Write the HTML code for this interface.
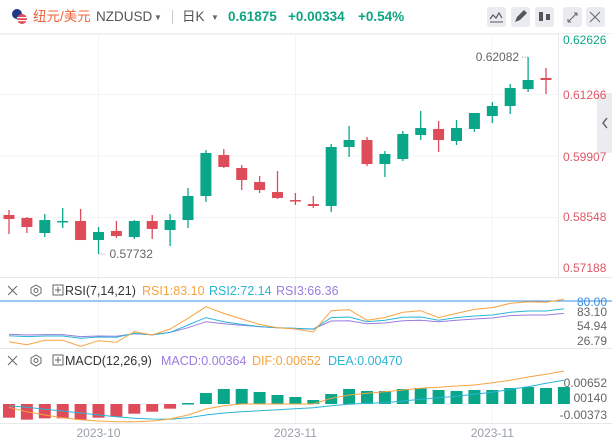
<!DOCTYPE html>
<html><head><meta charset="utf-8"><style>
body{margin:0;width:612px;height:444px;overflow:hidden;background:#fff;font-family:"Liberation Sans","Noto Sans CJK SC",sans-serif;}
svg{display:block}
</style></head><body>
<svg id="c" width="612" height="444" viewBox="0 0 612 444">
<g id="hdr">
 <rect x="0" y="0" width="612" height="33" fill="#fff"/>
 <line x1="0" y1="33.5" x2="612" y2="33.5" stroke="#eceef2"/>
 <g><circle cx="17" cy="14" r="5" fill="#1f3a8a"/><circle cx="22" cy="19" r="5" fill="#e04b5a"/><rect x="17" y="17" width="10" height="1.2" fill="#fff"/><rect x="17" y="20" width="10" height="1.2" fill="#fff"/></g>
 <text x="33" y="21" font-size="13.5" fill="#f0643c">纽元/美元</text>
 <text x="96" y="21" font-size="13.5" fill="#555">NZDUSD</text>
 <text x="154" y="20" font-size="8" fill="#666">▼</text>
 <line x1="172.5" y1="10" x2="172.5" y2="24" stroke="#ccc"/>
 <text x="182" y="21" font-size="13.5" fill="#555">日K</text>
 <text x="211" y="20" font-size="8" fill="#666">▼</text>
 <text x="228" y="21" font-size="13.5" font-weight="bold" fill="#0ea583">0.61875</text>
 <text x="288" y="21" font-size="13.5" font-weight="bold" fill="#0ea583">+0.00334</text>
 <text x="358" y="21" font-size="13.5" font-weight="bold" fill="#0ea583">+0.54%</text>
 <g><rect x="487" y="7" width="19" height="20" rx="3" fill="#e9ebf0"/><path d="M490 19l3-4 3 3 3-5 3 5" stroke="#555" fill="none" stroke-width="1.2"/><line x1="490" y1="22" x2="503" y2="22" stroke="#555"/></g>
 <g><rect x="511" y="7" width="19" height="20" rx="3" fill="#e9ebf0"/><path d="M515 22l2-5 7-7 3 3-7 7z" fill="#555"/></g>
 <g><rect x="535" y="7" width="19" height="20" rx="3" fill="#e9ebf0"/><rect x="539" y="12" width="4" height="9" fill="#555"/><rect x="546" y="14" width="4" height="6" fill="#555"/></g>
 <g><rect x="563" y="7" width="19" height="20" rx="3" fill="#e9ebf0"/><path d="M568 22l9-9M568 22v-3M568 22h3M577 13h-3M577 13v3" stroke="#666" fill="none"/></g>
 <g><rect x="586" y="7" width="19" height="20" rx="3" fill="#e9ebf0"/><path d="M590 12l10 10M600 12l-10 10" stroke="#666"/></g>
</g>
<g id="grid"></g>
<g id="main"></g>
<g id="rsi"></g>
<g id="macd"></g>
<g><rect x="597" y="93" width="15" height="60" fill="#ebecf0"/><path d="M607 118l-4 5 4 5" stroke="#666" fill="none" stroke-width="1.5"/></g>
<g id="axes"></g>
</svg>
<script>
const opens=[.58592,.58526,.58194,.58459,.58459,.58039,.58239,.58106,.58459,.58261,.58481,.59012,.59918,.59631,.59321,.59100,.58923,.58835,.58791,.60095,.60249,.59719,.59830,.60360,.60493,.60227,.60493,.60780,.61001,.61376,.61620];
const highs=[.58702,.58548,.58614,.58747,.58725,.58327,.58459,.58481,.58592,.58614,.59189,.60028,.60051,.59697,.59454,.59564,.59078,.59012,.60161,.60559,.60316,.60006,.60448,.60890,.60669,.60691,.60846,.61089,.61487,.62082,.61841];
const lows=[.58172,.58194,.58106,.58305,.58039,.57732,.58084,.58062,.58062,.57907,.58305,.58879,.59631,.59144,.59078,.58946,.58813,.58747,.58658,.59874,.59675,.59432,.59785,.60249,.59984,.60139,.60426,.60625,.60824,.61310,.61266];
const closes=[.58503,.58327,.58481,.58460,.58039,.58216,.58128,.58459,.58283,.58481,.59012,.59962,.59653,.59365,.59144,.58968,.58913,.58791,.60095,.60249,.59719,.59940,.60382,.60515,.60249,.60515,.60846,.61001,.61399,.61575,.61575];
const rsi1=[37.2,34.0,38.6,38.6,32.3,38.2,36.5,47.7,44.2,50.5,61.8,74.0,67.0,61.1,55.4,51.9,50.5,47.4,69.8,70.9,59.7,62.5,68.1,69.8,62.5,67.0,71.2,73.0,77.5,79.3,78.6,81.8];
const rsi2=[43.5,42.5,43.2,43.2,40.7,42.1,41.8,46.0,44.2,47.0,54.7,62.5,58.2,55.4,53.0,51.9,51.2,50.2,62.5,63.2,58.2,59.7,62.8,63.2,59.7,62.5,64.2,65.3,68.1,69.5,69.5,71.9];
const rsi3=[44.9,44.2,44.6,44.6,42.5,43.2,42.8,45.6,44.6,47.0,51.9,58.2,56.1,54.4,53.0,51.9,51.2,50.5,58.9,59.3,56.1,56.8,59.3,59.7,58.2,59.7,61.1,62.1,64.6,65.3,65.3,67.0];
const hist=[-.00415,-.00475,-.00435,-.00435,-.00475,-.00415,-.00385,-.00294,-.00233,-.00142,.0003,.00333,.00455,.00455,.00364,.00273,.00212,.00121,.00303,.00455,.00394,.00394,.00455,.00485,.00424,.00394,.00424,.00424,.00485,.00515,.00485,.00515];
const dif=[-.00101,-.00232,-.00333,-.00414,-.00475,-.00515,-.00535,-.00535,-.00515,-.00455,-.00333,-.00152,-.00051,0,0,0,0,0,.00172,.00273,.00323,.00374,.00424,.00475,.00505,.00545,.00576,.00646,.00717,.00818,.00899,.01];
const dea=[-.00051,-.00101,-.00162,-.00212,-.00273,-.00333,-.00384,-.00434,-.00455,-.00465,-.00414,-.00333,-.00273,-.00232,-.00202,-.00172,-.00141,-.00111,-.00051,-.0001,.0002,.0004,.00091,.00141,.00192,.00232,.00293,.00354,.00444,.00525,.00626,.00717];
const priceTicks=["0.62626","0.61266","0.59907","0.58548","0.57188"];
const rsiTicks=["80.00","83.10","54.94","26.79"];
const macdTicks=["0.00652","00140","-0.00373"];
const dateLabels=["2023-10","2023-11","2023-11"];
const dateIdx=[5,16,27];

const NS="http://www.w3.org/2000/svg";
function mk(p,t,a){const e=document.createElementNS(NS,t);for(const k in a)e.setAttribute(k,a[k]);p.appendChild(e);return e;}
const X=i=>9+i*17.9;
const Y=p=>94+(0.61266-p)*4525;
const RY=v=>301+(80-v)*0.95;
const MY=v=>404-v*3300;
const RED="#de4c5a",GREEN="#0aa68a";
const grid=document.getElementById('grid');
[34,94,155.5,217].forEach(y=>{const l=mk(grid,'line',{x1:0,x2:558,y1:y+.5,y2:y+.5,stroke:"#f2f3f6"});

});
dateIdx.forEach(i=>{const l=mk(grid,'line',{x1:X(i),x2:X(i),y1:34,y2:424,stroke:"#f2f3f6"});

});
const main=document.getElementById('main');
opens.forEach((o,i)=>{const c=closes[i];const col=c>=o?GREEN:RED;const g=mk(main,'g',{});


mk(g,'line',{x1:X(i),x2:X(i),y1:Y(highs[i]),y2:Y(lows[i]),stroke:col,'stroke-width':1.3});
const t=Math.min(Y(o),Y(c)),h=Math.max(1.5,Math.abs(Y(o)-Y(c)));
mk(g,'rect',{x:X(i)-5.5,y:t,width:11,height:h,fill:col});});
function lab(p,x,y,txt,col,anchor,size,name){const t=mk(p,'text',{x:x,y:y,'font-size':size||12,fill:col,'text-anchor':anchor||'start'});t.textContent=txt;

return t;}
let hi=highs.indexOf(Math.max(...highs)),lo=lows.indexOf(Math.min(...lows));
mk(main,'path',{d:`M${X(hi)} ${Y(highs[hi])}h-6`,stroke:"#999",'stroke-dasharray':"1 1.5"});
lab(main,X(hi)-9,Y(highs[hi])+4,"0.62082","#666","end",12,"high-marker");
mk(main,'path',{d:`M${X(lo)} ${Y(lows[lo])}h6`,stroke:"#999",'stroke-dasharray':"1 1.5"});
lab(main,X(lo)+11,Y(lows[lo])+4,"0.57732","#666","start",12,"low-marker");
// axes
const ax=document.getElementById('axes');
mk(ax,'line',{x1:558.5,x2:558.5,y1:34,y2:277,stroke:"#e6e8ec"});
mk(ax,'line',{x1:0,x2:612,y1:277.5,y2:277.5,stroke:"#e6e8ec"});
mk(ax,'line',{x1:0,x2:612,y1:348.5,y2:348.5,stroke:"#e6e8ec"});
mk(ax,'line',{x1:0,x2:612,y1:423.5,y2:423.5,stroke:"#e6e8ec"});
const py=[44,99,161,221,272];
priceTicks.forEach((t,i)=>lab(ax,563,py[i],t,i==0?"#0ea583":"#e05866","start",12,"price-tick"));
dateLabels.forEach((t,i)=>lab(ax,X(dateIdx[i]),437,t,"#9aa0aa","middle",12,"date-tick"));
// RSI
const r=document.getElementById('rsi');
mk(r,'line',{x1:0,x2:612,y1:RY(80),y2:RY(80),stroke:"#3b8fe0",'stroke-width':1});
function line(p,arr,f,col,name){const d=arr.map((v,i)=>(i?'L':'M')+X(i).toFixed(1)+' '+f(v).toFixed(1)).join('');const e=mk(p,'path',{d:d,fill:'none',stroke:col,'stroke-width':1});

}
line(r,rsi3,RY,"#9a7de0","rsi3-line");line(r,rsi2,RY,"#2bb5d6","rsi2-line");line(r,rsi1,RY,"#f7a440","rsi1-line");
const ry=[306,316,330,345];
rsiTicks.forEach((t,i)=>lab(r,607,ry[i],t,i==0?"#3b8fe0":"#666","end",12,"rsi-tick"));
function hdr(p,y,title,items,name){const g=mk(p,'g',{});


mk(g,'path',{d:`M8 ${y-9}l9 9M17 ${y-9}l-9 9`,stroke:"#666"});
mk(g,'polygon',{points:`36,${y-10} 41,${y-7} 41,${y-2} 36,${y+1} 31,${y-2} 31,${y-7}`,fill:'none',stroke:"#666"});
mk(g,'circle',{cx:36,cy:y-4.5,r:2,fill:'none',stroke:'#666'});
mk(g,'rect',{x:53,y:y-10,width:10,height:10,fill:'none',stroke:'#666'});mk(g,'path',{d:`M55 ${y-5}h6M58 ${y-8}v6`,stroke:'#666'});
lab(g,65,y,title,"#333","start",12.5,name+"-title");
items.forEach(it=>lab(g,it[0],y,it[1],it[2],"start",12.5,name+"-value"));}
hdr(r,295,"RSI(7,14,21)",[[142,"RSI1:83.10","#f7a440"],[209,"RSI2:72.14","#2bb5d6"],[276,"RSI3:66.36","#9a7de0"]],"rsi-legend");
// MACD
const m=document.getElementById('macd');
hist.forEach((v,i)=>{const y0=MY(0),y1=MY(v);const b=mk(m,'rect',{x:X(i)-6,y:Math.min(y0,y1),width:12,height:Math.max(1.5,Math.abs(y1-y0)),fill:v>=0?GREEN:RED});

});
line(m,dea,MY,"#2bb5d6","dea-line");line(m,dif,MY,"#f7a440","dif-line");
const my=[387,402,419];
macdTicks.forEach((t,i)=>lab(m,607,my[i],t,"#666","end",12,"macd-tick"));
hdr(m,365,"MACD(12,26,9)",[[161,"MACD:0.00364","#9a7de0"],[252,"DIF:0.00652","#f7a440"],[328,"DEA:0.00470","#2bb5d6"]],"macd-legend");
</script>
</body></html>
